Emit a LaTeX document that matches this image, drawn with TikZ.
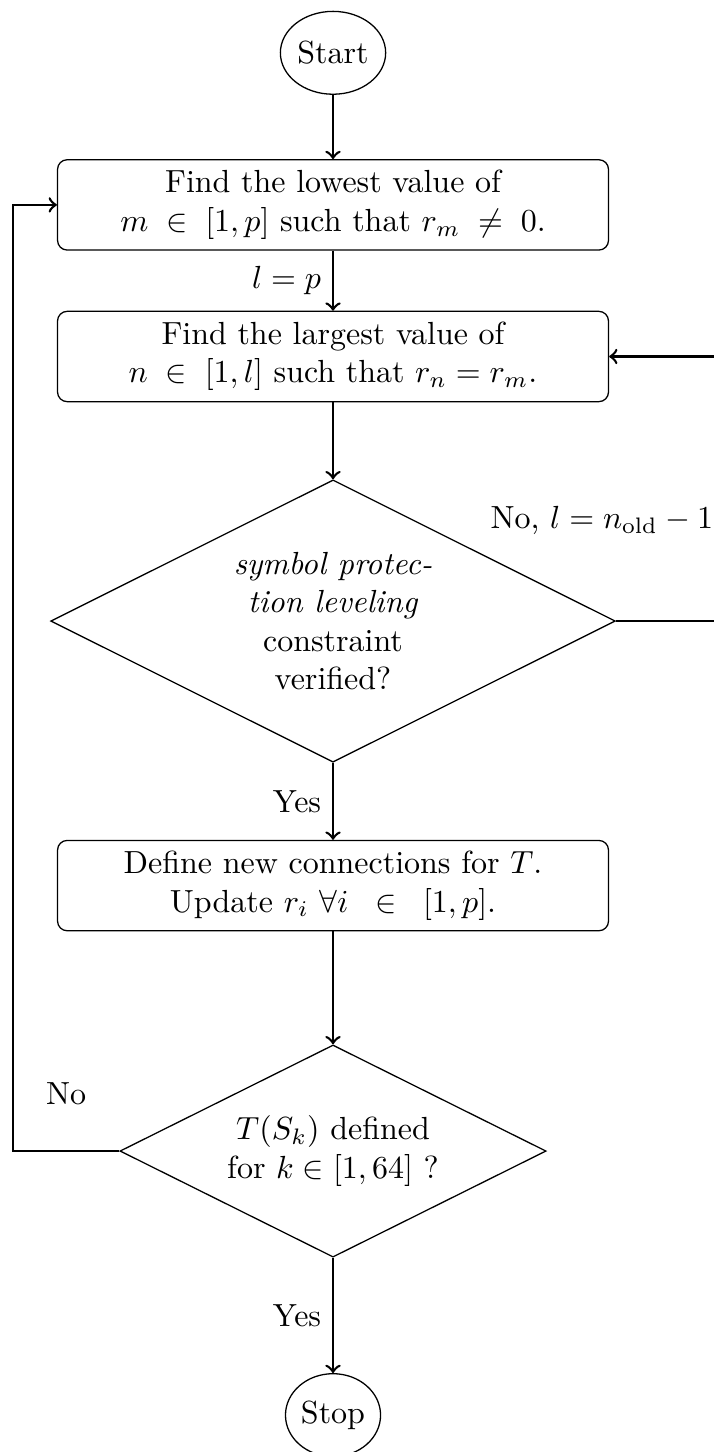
\documentclass[tikz,border=0pt]{standalone}
\usetikzlibrary{shapes.geometric}

\begin{document}
\begin{tikzpicture}[font=\normalsize,
    terminal/.style={ellipse, draw, inner sep=0.5pt, minimum width=1cm, minimum height=0.91cm},
    stepbox/.style={rectangle, draw, rounded corners=3pt, align=center, minimum width=6.05cm, minimum height=0.98cm},
    decision/.style={diamond, draw, aspect=2, align=center, inner sep=0pt},
    flow/.style={->, thick}]
  \useasboundingbox (-3.657,0) rectangle (4.173,-15.945);

  \node[terminal] (start) at (0,-0.58) {Start};
  \node[stepbox] (lowest) at (0,-2.25) {Find the lowest value of\\ $m \;\in\; [1,p]$ such that $r_m \;\neq\; 0$.};
  \node[stepbox] (largest) at (0,-3.915) {Find the largest value of\\ $n \;\in\; [1,l]$ such that $r_n = r_m$.};
  \node[decision, minimum width=6.2cm, minimum height=3.1cm] (check) at (0,-6.82) {\textit{symbol protec-}\\ \textit{tion leveling}\\ constraint\\ verified?};
  \node[stepbox] (update) at (0,-9.725) {Define new connections for $T$.\\ Update $r_i$ $\forall i \;\;\in\;\; [1,p]$.};
  \node[decision, minimum width=4.68cm, minimum height=2.33cm] (done) at (0,-12.64) {$T(S_k)$ defined\\ for $k \in [1,64]$ ?};
  \node[terminal] (stop) at (0,-15.54) {Stop};

  \coordinate (loopL) at (-3.514,-12.64);
  \coordinate (loopR) at (4.305,-6.82);

  \draw[flow] (start) -- (lowest);
  \draw[flow] (lowest) -- node[left] {$l = p$} (largest);
  \draw[flow] (largest) -- (check);
  \draw[flow] (check) -- node[left] {Yes} (update);
  \draw[flow] (update) -- (done);
  \draw[flow] (done) -- node[left] {Yes} (stop);
  % back to the start when some T(S_k) is missing
  \draw[flow] (done.west) -- node[above=0.38cm] {No} (loopL) |- (lowest.west);
  % retry with a smaller l
  \draw[flow] (check.east) -- (loopR) |- node[pos=0.19, left] {No, $l = n_{\mathrm{old}} - 1$} (largest.east);
\end{tikzpicture}
\end{document}
